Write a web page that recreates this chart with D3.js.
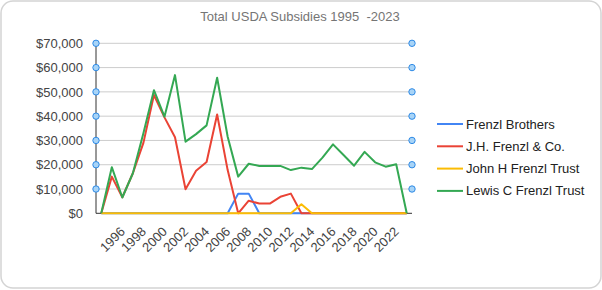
<!DOCTYPE html>
<html>
<head>
<meta charset="utf-8">
<script src="https://cdn.jsdelivr.net/npm/d3@7"></script>
<style>
  body { margin: 0; background: #fff; }
  text { font-family: "Liberation Sans", Arial, sans-serif; }
</style>
</head>
<body>
<div id="chart"></div>
<script>
// categories (first one is an empty slot, as in the source sheet)
var years = ["", "1995", "1996", "1997", "1998", "1999", "2000", "2001", "2002", "2003",
  "2004", "2005", "2006", "2007", "2008", "2009", "2010", "2011", "2012", "2013",
  "2014", "2015", "2016", "2017", "2018", "2019", "2020", "2021", "2022", "2023"];

var yearLabels = ["1996", "1998", "2000", "2002", "2004", "2006", "2008", "2010",
  "2012", "2014", "2016", "2018", "2020", "2022"];

var yTicks = [0, 10000, 20000, 30000, 40000, 50000, 60000, 70000];

var seriesNames = ["Frenzl Brothers", "J.H. Frenzl & Co.", "John H Frenzl Trust", "Lewis C Frenzl Trust"];
var seriesColors = ["#4285f4", "#ea4335", "#fbbc04", "#34a853"];

var frenzlBrothers = [0, 0, 0, 0, 0, 0, 0, 0, 0, 0, 0, 0, 0, 8100, 8100, 0, 0, 0, 0, 0,
  0, 0, 0, 0, 0, 0, 0, 0, 0, 0];
var jhFrenzl = [0, 15100, 6600, 16500, 29000, 48700, 39500, 31300, 9900, 17500, 21100, 40700,
  17800, 0, 5200, 4000, 4000, 6800, 8100, 0, 0, 0, 0, 0, 0, 0, 0, 0, 0, 0];
var johnTrust = [0, 0, 0, 0, 0, 0, 0, 0, 0, 0, 0, 0, 0, 0, 0, 0, 0, 0, 0, 3700,
  0, 0, 0, 0, 0, 0, 0, 0, 0, 0];
var lewisTrust = [0, 19000, 6500, 16500, 33000, 50700, 39800, 56900, 29500, 32600, 36200, 55800,
  31500, 15100, 20400, 19500, 19500, 19500, 17800, 18800, 18200, 22900, 28400, 24000, 19600,
  25300, 21000, 19200, 20200, 0];

var allSeries = [frenzlBrothers, jhFrenzl, johnTrust, lewisTrust];

var W = 602, H = 290;
// note: "top" is taken by window.top, so plot edges get their own names
var plotLeft = 96, plotRight = 412, plotTop = 43.3, plotBottom = 213.3;

var svg = d3.select("#chart").append("svg")
  .attr("width", W).attr("height", H);

// rounded frame
svg.append("rect")
  .attr("x", 1).attr("y", 1)
  .attr("width", W - 2).attr("height", H - 3)
  .attr("rx", 12).attr("ry", 12)
  .style("fill", "#fff")
  .style("stroke", "#d4d4d4")
  .style("stroke-width", 1.5);

svg.append("text")
  .attr("x", 300).attr("y", 21)
  .attr("text-anchor", "middle")
  .style("font-size", "13px")
  .style("fill", "#757575")
  .style("white-space", "pre")
  .text("Total USDA Subsidies 1995  -2023");

var x = d3.scalePoint().domain(years).range([plotLeft, plotRight]).padding(0.5);
var y = d3.scaleLinear().domain([0, 70000]).range([plotBottom, plotTop]);

// gridlines
svg.append("g").selectAll("line")
  .data(yTicks.slice(1))
  .enter().append("line")
  .attr("x1", plotLeft).attr("x2", plotRight)
  .attr("y1", function(d) { return y(d); })
  .attr("y2", function(d) { return y(d); })
  .style("stroke", "#cccccc")
  .style("stroke-width", 1);

// y axis labels
var yAxis = svg.append("g")
  .attr("transform", "translate(" + plotLeft + ",0)")
  .call(d3.axisLeft(y).tickValues(yTicks).tickSize(0).tickPadding(13)
    .tickFormat(d3.format("$,")));
yAxis.select(".domain").remove();
yAxis.selectAll("text")
  .style("font-size", "13px")
  .style("fill", "#444")
  .style("font-family", "'Liberation Sans', Arial, sans-serif");

// x axis labels, slanted
var xAxis = svg.append("g")
  .attr("transform", "translate(0," + plotBottom + ")")
  .call(d3.axisBottom(x).tickValues(yearLabels).tickSize(0).tickPadding(0));
xAxis.select(".domain").remove();
xAxis.selectAll("text")
  .attr("text-anchor", "end")
  .attr("dy", null)
  .attr("y", 0)
  .attr("transform", "translate(3,19) rotate(-45)")
  .style("font-size", "13px")
  .style("fill", "#444")
  .style("font-family", "'Liberation Sans', Arial, sans-serif");

// axis lines (under the series)
svg.append("line")
  .attr("x1", plotLeft).attr("x2", plotLeft)
  .attr("y1", plotTop).attr("y2", plotBottom)
  .style("stroke", "#333").style("stroke-width", 1);
svg.append("line")
  .attr("x1", plotLeft).attr("x2", plotRight)
  .attr("y1", plotBottom).attr("y2", plotBottom)
  .style("stroke", "#333").style("stroke-width", 1);

// lines
var line = d3.line()
  .x(function(d, i) { return x(years[i]); })
  .y(function(d) { return y(d); });

svg.append("g").selectAll("path")
  .data(allSeries)
  .enter().append("path")
  .attr("d", line)
  .style("fill", "none")
  .style("stroke", function(d, i) { return seriesColors[i]; })
  .style("stroke-width", 2)
  .style("stroke-linejoin", "round");

// handle dots on both ends of the gridlines
[plotLeft, plotRight].forEach(function(cx) {
  svg.append("g").selectAll("circle")
    .data(yTicks.slice(1))
    .enter().append("circle")
    .attr("cx", cx)
    .attr("cy", function(d) { return y(d); })
    .attr("r", 3.2)
    .style("fill", "#a8d4f7")
    .style("stroke", "#2e8ae6")
    .style("stroke-width", 1);
});

// legend
var legend = svg.append("g").selectAll("g")
  .data(seriesNames)
  .enter().append("g")
  .attr("transform", function(d, i) { return "translate(437," + (124 + i * 22.3) + ")"; });
legend.append("line")
  .attr("x1", 0).attr("x2", 26)
  .style("stroke", function(d, i) { return seriesColors[i]; })
  .style("stroke-width", 2);
legend.append("text")
  .attr("x", 29).attr("y", 4.5)
  .style("font-size", "13px")
  .style("fill", "#222")
  .text(function(d) { return d; });
</script>
</body>
</html>
